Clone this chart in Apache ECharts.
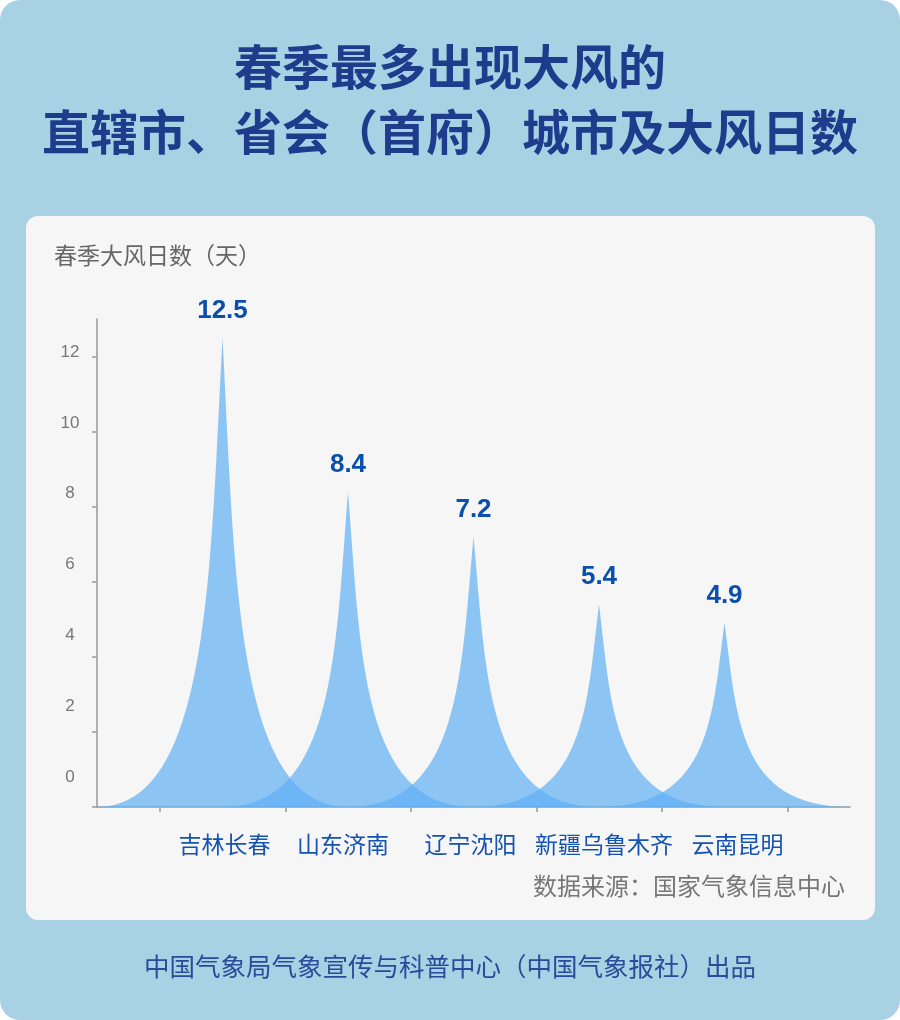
<!DOCTYPE html>
<html><head><meta charset="utf-8">
<script src="https://cdn.jsdelivr.net/npm/echarts@6/dist/echarts.min.js"></script>
<style>html,body{margin:0;padding:0;background:#fff}#c{width:900px;height:1020px}</style>
</head><body><div id="c"></div>
<script>
const categories = ['吉林长春', '山东济南', '辽宁沈阳', '新疆乌鲁木齐', '云南昆明'];
const values = [12.5, 8.4, 7.2, 5.4, 4.9];
const yTicks = [0, 2, 4, 6, 8, 10, 12];
const titleLines = ['春季最多出现大风的', '直辖市、省会（首府）城市及大风日数'];
const yName = '春季大风日数（天）';
const sourceText = '数据来源：国家气象信息中心';
const footerText = '中国气象局气象宣传与科普中心（中国气象报社）出品';

const cjk = '"Noto Sans CJK SC", sans-serif';
const xData = [''].concat(categories).concat(['']);
const sData = ['-'].concat(values).concat(['-']);
const catStyle = {color: '#1553b0', fontSize: 23, fontFamily: cjk};
const rich = {
  s1: Object.assign({padding: [0, 0, 0, 4]}, catStyle),
  s2: Object.assign({padding: [0, 10, 0, 0]}, catStyle),
  s3: Object.assign({padding: [0, 6, 0, 0]}, catStyle),
  s4: Object.assign({padding: [0, 0, 0, 10]}, catStyle),
  s5: Object.assign({padding: [0, 0, 0, 26]}, catStyle)
};
const chart = echarts.init(document.getElementById('c'), null, {renderer: 'canvas'});
chart.setOption({
  animation: false,
  backgroundColor: 'transparent',
  graphic: [
    {type: 'rect', z: -10, shape: {x: 0, y: 0, width: 900, height: 1020, r: 20}, style: {fill: '#a8d2e3'}},
    {type: 'rect', z: -9, shape: {x: 26, y: 216, width: 849, height: 704, r: 12}, style: {fill: '#f6f6f6'}},
    {type: 'text', left: 'center', top: 43, style: {text: titleLines[0], font: 'bold 48px ' + cjk, fill: '#1f3c8c'}},
    {type: 'text', left: 'center', top: 108, style: {text: titleLines[1], font: 'bold 48px ' + cjk, fill: '#1f3c8c'}},
    {type: 'text', left: 54, top: 244, style: {text: yName, font: '23px ' + cjk, fill: '#666'}},
    {type: 'text', right: 55, top: 874, style: {text: sourceText, font: '24px ' + cjk, fill: '#777'}},
    {type: 'text', left: 'center', top: 954, style: {text: footerText, font: '25.5px ' + cjk, fill: '#2a4a9a'}}
  ],
  grid: [
    {left: 97, right: 50, top: 319, bottom: 213},
    {left: 97, right: 50, top: 352, bottom: 243}
  ],
  xAxis: [
    {type: 'category', gridIndex: 0, data: xData, boundaryGap: false, position: 'bottom',
     axisLine: {lineStyle: {color: '#999', width: 1.5}}, axisTick: {show: false},
     axisLabel: {color: '#1553b0', fontSize: 23, fontFamily: cjk, margin: 26, interval: 0,
                 formatter: function (v, i) { return v ? '{s' + i + '|' + v + '}' : ''; }, rich: rich}},
    {type: 'category', gridIndex: 0, data: ['', '', '', '', '', ''], boundaryGap: true, position: 'bottom',
     axisLine: {show: false}, axisLabel: {show: false},
     axisTick: {show: true, alignWithLabel: true, length: 5, lineStyle: {color: '#999', width: 1.5}}},
    {type: 'category', gridIndex: 1, data: xData, show: false}
  ],
  yAxis: [
    {type: 'value', gridIndex: 0, min: 0, max: 13,
     axisLine: {show: true, lineStyle: {color: '#999', width: 1.5}},
     axisTick: {show: true, length: 5, customValues: yTicks, lineStyle: {color: '#999', width: 1.5}},
     axisLabel: {show: false}, splitLine: {show: false}},
    {type: 'value', gridIndex: 1, min: 0, max: 12, interval: 2,
     axisLine: {show: false}, axisTick: {show: false}, splitLine: {show: false},
     axisLabel: {color: '#777', fontSize: 17, fontFamily: '"Liberation Sans", Arial, sans-serif', align: 'center', margin: 27}}
  ],
  series: [{
    type: 'pictorialBar', xAxisIndex: 0, yAxisIndex: 0,
    symbol: 'path://M0,10 L10,10 C5.5,10 5.5,5 5,0 C4.5,5 4.5,10 0,10 z',
    symbolSize: [251, '100%'],
    itemStyle: {color: 'rgba(95,175,244,0.7)'},
    label: {show: true, position: 'top', distance: 14, color: '#0b4fae', fontSize: 26, fontWeight: 'bold',
            fontFamily: '"Liberation Sans", Arial, sans-serif'},
    data: sData
  }]
});
</script></body></html>
